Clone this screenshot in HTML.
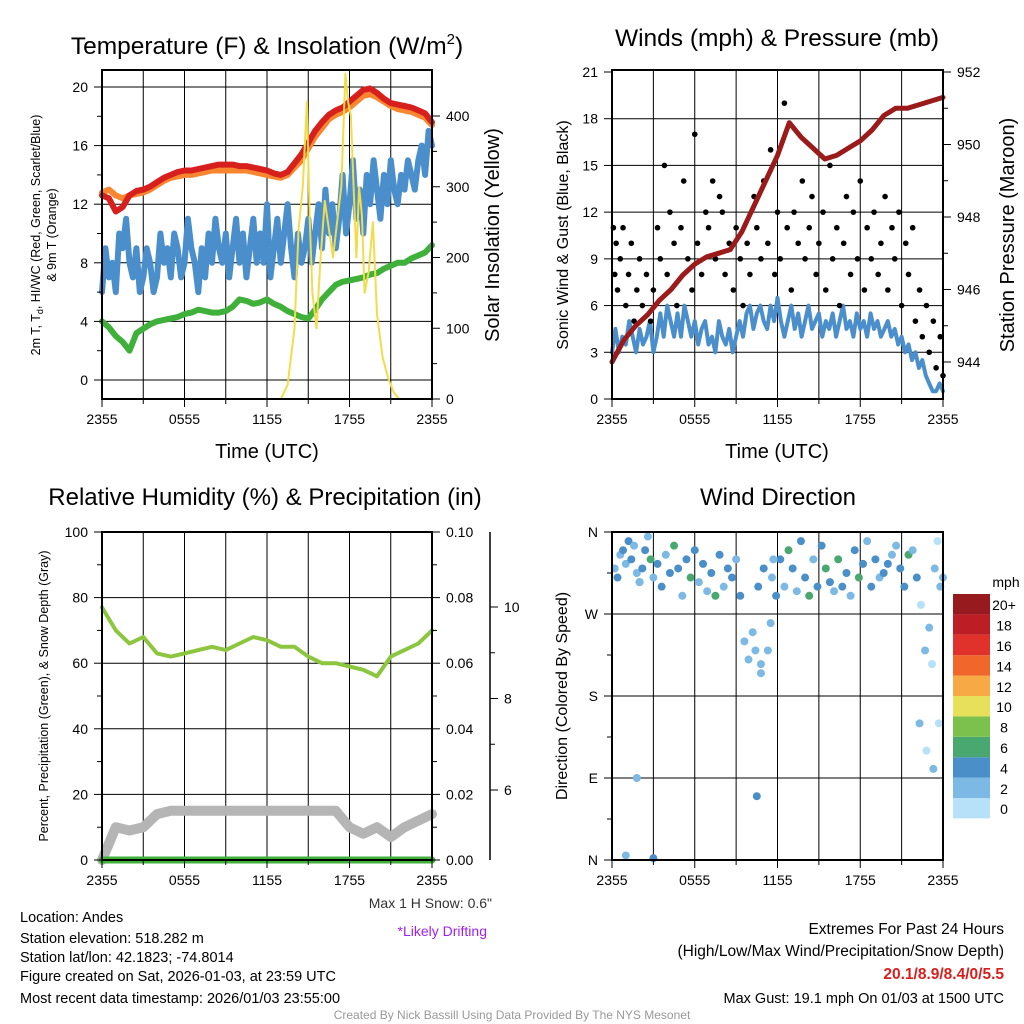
<!DOCTYPE html>
<html><head><meta charset="utf-8"><style>
body{margin:0;background:#fff}
svg{display:block;font-family:"Liberation Sans",sans-serif}
</style></head><body>
<svg id="c" width="1024" height="1024" viewBox="0 0 1024 1024"></svg>
<script>
// ---- data ----
const tempRed=[12.6,12.4,11.5,11.8,12.6,12.9,13.0,13.2,13.5,13.8,14.0,14.2,14.3,14.3,14.4,14.5,14.6,14.7,14.7,14.7,14.6,14.6,14.5,14.4,14.3,14.1,14.0,14.2,14.8,15.4,16.2,17.0,17.6,18.1,18.4,18.6,19.0,19.4,19.8,19.9,19.6,19.2,18.9,18.8,18.7,18.6,18.4,18.2,17.6];
const temp9m=[12.8,13.0,12.6,12.4,12.6,12.7,12.8,13.0,13.3,13.6,13.8,13.9,14.0,14.0,14.1,14.2,14.3,14.3,14.3,14.3,14.3,14.3,14.2,14.1,14.0,13.9,13.8,14.0,14.5,15.0,15.8,16.6,17.2,17.8,18.1,18.3,18.6,19.0,19.4,19.5,19.3,19.0,18.7,18.5,18.4,18.3,18.1,17.9,17.4];
const tempDew=[4.0,3.6,3.0,2.6,2.0,3.2,3.5,3.8,4.0,4.1,4.2,4.3,4.5,4.6,4.8,4.7,4.6,4.6,4.7,5.0,5.5,5.4,5.2,5.3,5.5,5.2,5.0,4.7,4.5,4.3,4.2,4.8,5.5,6.0,6.5,6.7,6.8,6.9,7.0,7.2,7.3,7.6,7.8,8.0,8.0,8.3,8.5,8.7,9.2];
const tempWC=[6,9,7,8,6,10,9,11,8,7,9,6,7,9,8,6,7,10,8,9,7,10,9,7,8,11,9,8,6,9,7,10,8,11,9,8,10,7,9,11,8,10,7,9,11,8,10,8,12,7,9,11,8,10,12,9,7,10,8,9,11,8,10,12,9,13,10,12,9,11,14,10,12,15,11,13,10,14,12,15,13,11,14,12,15,13,12,14,13,15,14,13,15,16,14,17,16];
const solT=[0,13,13.5,14,14.3,14.6,14.9,15.1,15.3,15.6,15.9,16.2,16.5,16.8,17.1,17.4,17.7,17.9,18.1,18.3,18.5,18.7,18.9,19.1,19.4,19.7,20,20.4,20.8,21.2,21.6,24];
const solV=[0,0,20,100,240,300,420,260,150,100,200,280,240,200,250,300,460,420,400,300,200,300,260,150,180,250,120,60,30,10,0,0];
const windV=[3,4.5,3,4,3.5,5,4,3,4.5,3.5,4,5,3,4,5.5,4,6,5,4,5.5,4,6,5,4,5,3.5,4.5,5,3.5,4,3,5,4,3.5,4.5,3,4,5,4,5.5,6,4.5,5.5,6,5,4.5,6,5,6.5,5,4,5,6,4.5,5.5,4,5,6,4.5,5,5.5,4,5,4.5,5.5,4,5,6,4.5,5,4,5.5,4.5,5,4,5.5,4.5,5,4,4.5,5,4,4.5,3.5,4,3,3.5,2.5,3,2,2.5,1.5,1,0.5,0.5,1,0.5];
const gustT=[0.1,0.2,0.3,0.4,0.6,0.8,1.0,1.2,1.4,1.6,1.8,2.0,2.2,2.5,2.8,3.0,3.3,3.5,3.8,4.0,4.2,4.5,4.7,5.0,5.2,5.5,5.8,6.0,6.2,6.5,6.8,7.0,7.3,7.5,7.8,8.0,8.2,8.5,8.8,9.0,9.3,9.5,9.8,10.0,10.3,10.5,10.8,11.0,11.3,11.5,11.8,12.0,12.2,12.5,12.7,13.0,13.2,13.5,13.8,14.0,14.3,14.5,14.8,15.0,15.3,15.5,15.8,16.0,16.3,16.5,16.8,17.0,17.3,17.5,17.8,18.0,18.3,18.5,18.8,19.0,19.3,19.5,19.8,20.0,20.3,20.5,20.8,21.0,21.3,21.5,21.8,22.0,22.3,22.5,22.8,23.0,23.3,23.5,23.8,24.0];
const gustV=[11,8,10,7,9,11,6,8,10,5,7,9,6,8,5,7,11,9,15,8,12,10,6,11,14,9,7,17,10,8,12,11,14,9,13,12,8,10,7,11,9,6,10,8,13,11,9,14,10,16,8,12,9,19,11,7,12,10,14,9,11,13,8,10,12,7,15,9,11,6,10,13,8,12,9,14,7,11,9,12,8,10,13,7,11,9,12,6,10,8,11,5,7,4,6,3,5,2,4,1.5];
const pres=[944.0,944.6,945.0,945.3,945.7,946.0,946.4,946.7,946.9,947.0,947.1,947.6,948.3,949.0,949.7,950.6,950.2,949.9,949.6,949.7,949.9,950.1,950.4,950.8,951.0,951.0,951.1,951.2,951.3];
const rh=[77,70,66,68,63,62,63,64,65,64,66,68,67,65,65,62,60,60,59,58,56,62,64,66,70];
const snowGray=[0,10,9,10,14,15,15,15,15,15,15,15,15,15,15,15,15,15,10,8,10,7,10,12,14];
const precip=[0,0,0,0,0,0,0,0,0,0,0,0,0,0,0,0,0,0,0,0,0,0,0,0,0];
const dirT=[0.2,0.4,0.6,0.8,1.0,1.2,1.4,1.6,1.8,2.0,2.2,2.4,2.6,2.8,3.0,3.3,3.6,3.9,4.2,4.5,4.8,5.1,5.4,5.7,6.0,6.3,6.6,6.9,7.2,7.5,7.8,8.1,8.4,8.7,9.0,9.3,9.6,9.9,10.2,10.4,10.6,10.8,11.0,11.3,11.6,11.9,12.2,12.5,12.8,13.1,13.4,13.7,14.0,14.3,14.6,14.9,15.2,15.5,15.8,16.1,16.4,16.7,17.0,17.3,17.6,17.9,18.2,18.5,18.8,19.1,19.4,19.7,20.0,20.3,20.6,20.9,21.2,21.5,21.8,22.1,22.4,22.7,23.0,23.2,23.4,23.6,23.8,24.0,1.0,2.0,3.0,10.8,11.5,22.3,22.8,23.3,23.7,1.8,11.7,10.5];
const dirD=[320,310,335,340,325,350,330,345,315,305,320,340,355,330,310,325,300,335,315,345,320,290,330,310,340,305,325,295,315,290,335,300,320,310,330,290,240,220,250,230,300,205,320,230,310,290,330,300,340,320,295,350,310,290,330,300,345,320,305,295,330,300,315,290,340,310,325,350,300,330,310,315,325,335,345,320,300,335,340,310,280,230,255,215,320,350,300,310,5,305,2,215,260,150,120,100,150,90,330,70];
const dirS=[3,4,2,5,3,4,5,2,3,4,4,5,3,6,2,4,5,3,4,6,5,3,4,6,4,3,5,2,4,6,5,3,4,5,3,4,2,2,3,2,4,3,5,2,3,4,5,3,6,4,3,5,4,6,3,4,5,6,4,3,7,5,4,3,5,6,4,3,5,4,3,5,4,2,3,5,4,6,3,4,1,2,2,1,2,1,3,2,2,3,4,2,2,2,1,2,1,2,2,4];
const speedColors=["#b7e1f8","#7cb9e4","#4a8fc8","#48a86f","#7cc04d","#e6e05a","#f7a945","#f0662b","#e0322a","#bd1e26","#961a1e"];
const cbLabels=["0","2","4","6","8","10","12","14","16","18","20+"];
const xTicks=["2355","0555","1155","1755","2355"];

// ---- helpers ----
const S=document.getElementById('c');const NS="http://www.w3.org/2000/svg";
function mk(t,a,p){const e=document.createElementNS(NS,t);for(const k in a)e.setAttribute(k,a[k]);(p||S).appendChild(e);return e;}
function txt(x,y,s,size,anchor,extra){const e=mk('text',Object.assign({x:x,y:y,'font-size':size,'text-anchor':anchor||'middle',fill:'#000'},extra||{}));e.textContent=s;return e;}
function lin(x0,x1,d0,d1){return v=>x0+(v-d0)*(x1-x0)/(d1-d0);}
function pathFrom(xs,ys){return xs.map((x,i)=>(i?'L':'M')+x.toFixed(1)+','+ys[i].toFixed(1)).join('');}
function frame(x0,y0,x1,y1,vg,hg){
  vg.forEach(x=>{const l=mk('line',{x1:x,x2:x,y1:y0,y2:y1,stroke:'#000','stroke-width':1});});
  hg.forEach(y=>{const l=mk('line',{x1:x0,x2:x1,y1:y,y2:y,stroke:'#000','stroke-width':1});});
}
function box(x0,y0,x1,y1){const r=mk('rect',{x:x0,y:y0,width:x1-x0,height:y1-y0,fill:'none',stroke:'#000','stroke-width':2});}
function xAxis(x0,x1,yb){const sx=lin(x0,x1,0,24);
  for(let h=0;h<=24;h+=3){const big=h%6==0;mk('line',{x1:sx(h),x2:sx(h),y1:yb,y2:yb+(big?8:5),stroke:'#000'});}
  xTicks.forEach((s,i)=>{const t=txt(sx(i*6),yb+25,s,14);});}
function yTicks(x,y0,y1,d0,d1,vals,labels,side,minor){const sy=lin(y0,y1,d0,d1);const dir=side=='l'?-1:1;
  (minor||[]).forEach(v=>mk('line',{x1:x,x2:x+dir*5,y1:sy(v),y2:sy(v),stroke:'#000'}));
  vals.forEach((v,i)=>{mk('line',{x1:x,x2:x+dir*8,y1:sy(v),y2:sy(v),stroke:'#000'});
   const t=txt(x+dir*14,sy(v)+5,labels[i],14,side=='l'?'end':'start');});}
function rotText(x,y,s,size,name){const t=txt(x,y,s,size,'middle',{transform:`rotate(-90 ${x} ${y})`});return t;}
function series(d,color,w,name){const p=mk('path',{d:d,fill:'none',stroke:color,'stroke-width':w,'stroke-linejoin':'round','stroke-linecap':'round'});return p;}

// ===== Panel 1 =====
(function(){const x0=102,x1=432,y0=70,y1=399;const sx=lin(x0,x1,0,24);const sy=lin(380,87,0,20);const sr=lin(399,116,0,400);
 const t1=txt(267,54,'',24.5);
 t1.innerHTML='Temperature (F) &amp; Insolation (W/m<tspan font-size="15" dy="-10">2</tspan><tspan dy="10">)</tspan>';
 frame(x0,y0,x1,y1,[3,6,9,12,15,18,21].map(sx),[0,4,8,12,16,20].map(sy));
 const n=tempRed.length;const xs=tempRed.map((_,i)=>sx(i*24/(n-1)));
 series(pathFrom(xs,tempDew.map(sy)),'#3fb13b',6,'dewpoint-line');
 const m=tempWC.length;series(pathFrom(tempWC.map((_,i)=>sx(i*24/(m-1))),tempWC.map(sy)),'#4a8fcb',6,'windchill-line');
 series(pathFrom(xs,temp9m.map(sy)),'#f7862f',6,'temp-9m-line');
 series(pathFrom(xs,tempRed.map(sy)),'#d7201e',6,'temp-2m-line');
 series(pathFrom(solT.map(sx),solV.map(sr)),'#f2dc4a',2,'insolation-line');
 box(x0,y0,x1,y1);xAxis(x0,x1,y1);
 yTicks(x0,380,87,0,20,[0,4,8,12,16,20],['0','4','8','12','16','20'],'l',[2,6,10,14,18]);
 yTicks(x1,399,116,0,400,[0,100,200,300,400],['0','100','200','300','400'],'r',[50,150,250,350]);
 const tx=txt(267,458,'Time (UTC)',20);
 const a=rotText(40,235,'',12.5,'y-axis-title-left');a.innerHTML='2m T, T<tspan font-size="9" dy="3">d</tspan><tspan dy="-3">, HI/WC (Red, Green, Scarlet/Blue)</tspan>';
 rotText(56,235,'& 9m T (Orange)',12.5,'y-axis-title-left-2');
 rotText(499,235,'Solar Insolation (Yellow)',20,'y-axis-title-right');
})();

// ===== Panel 2 =====
(function(){const x0=612,x1=943,y0=70,y1=399;const sx=lin(x0,x1,0,24);const sy=lin(399,72,0,21);const sp=lin(362,72,944,952);
 const t=txt(777,46,'Winds (mph) & Pressure (mb)',24.5);
 frame(x0,y0,x1,y1,[3,6,9,12,15,18,21].map(sx),[3,6,9,12,15,18].map(sy));
 const n=windV.length;series(pathFrom(windV.map((_,i)=>sx(i*24/(n-1))),windV.map(sy)),'#4a8fcb',4,'sonic-wind-line');
 gustT.forEach((h,i)=>{const c=mk('circle',{cx:sx(h),cy:sy(gustV[i]),r:2.8,fill:'#000'});});
 const m=pres.length;series(pathFrom(pres.map((_,i)=>sx(i*24/(m-1))),pres.map(sp)),'#9b1b1b',5,'pressure-line');
 box(x0,y0,x1,y1);xAxis(x0,x1,y1);
 yTicks(x0,399,72,0,21,[0,3,6,9,12,15,18,21],['0','3','6','9','12','15','18','21'],'l');
 yTicks(x1,362,72,944,952,[944,946,948,950,952],['944','946','948','950','952'],'r',[945,947,949,951]);
 const tx=txt(777,458,'Time (UTC)',20);
 rotText(568,235,'Sonic Wind & Gust (Blue, Black)',16,'y-axis-title-left');
 rotText(1014,235,'Station Pressure (Maroon)',20,'y-axis-title-right');
})();

// ===== Panel 3 =====
(function(){const x0=102,x1=432,y0=532,y1=860;const sx=lin(x0,x1,0,24);const sy=lin(860,532,0,100);const ss=lin(790,607,6,10);
 const t=txt(265,505,'Relative Humidity (%) & Precipitation (in)',24);
 frame(x0,y0,x1,y1,[3,6,9,12,15,18,21].map(sx),[20,40,60,80].map(sy));
 const n=rh.length;const xs=rh.map((_,i)=>sx(i*24/(n-1)));
 series(pathFrom(xs,snowGray.map(sy)),'#b5b5b5',10,'snow-depth-line');
 series(pathFrom(xs,precip.map(v=>sy(v*1000))),'#3fb13b',7,'precip-line');
 series(pathFrom(xs,rh.map(sy)),'#8cc63f',4,'rh-line');
 box(x0,y0,x1,y1);xAxis(x0,x1,y1);
 yTicks(x0,860,532,0,100,[0,20,40,60,80,100],['0','20','40','60','80','100'],'l',[10,30,50,70,90]);
 yTicks(x1,860,532,0,0.1,[0,0.02,0.04,0.06,0.08,0.1],['0.00','0.02','0.04','0.06','0.08','0.10'],'r',[0.01,0.03,0.05,0.07,0.09]);
 mk('line',{x1:490,x2:490,y1:532,y2:860,stroke:'#000','stroke-width':1.5});
 yTicks(490,790,607,6,10,[6,8,10],['6','8','10'],'r',[7,9]);
 rotText(48,696,'Percent, Precipitation (Green), & Snow Depth (Gray)',12.5,'y-axis-title-left');
 const a=txt(492,908,'Max 1 H Snow: 0.6"',14,'end',{fill:'#333'});
 const b=txt(487,936,'*Likely Drifting',14,'end',{fill:'#a020f0'});
})();

// ===== Panel 4 =====
(function(){const x0=612,x1=943,y0=532,y1=860;const sx=lin(x0,x1,0,24);const sy=lin(860,532,0,360);
 const t=txt(778,505,'Wind Direction',24);
 frame(x0,y0,x1,y1,[3,6,9,12,15,18,21].map(sx),[90,180,270].map(sy));
 dirT.forEach((h,i)=>{const k=Math.min(10,Math.floor(dirS[i]/2));const c=mk('circle',{cx:sx(h),cy:sy(dirD[i]),r:4,fill:speedColors[k]});});
 box(x0,y0,x1,y1);xAxis(x0,x1,y1);
 yTicks(x0,860,532,0,360,[0,90,180,270,360],['N','E','S','W','N'],'l',[45,135,225,315]);
 rotText(567,696,'Direction (Colored By Speed)',16,'y-axis-title-left');
 const u=txt(1006,587,'mph',14);
 const h=20.4;speedColors.forEach((c,i)=>{const y=594+(10-i)*h;const r=mk('rect',{x:953,y:y,width:37,height:h,fill:c});
   const l=txt(1004,y+h/2+6,cbLabels[i],14);});
})();

// ===== Footer =====
[['Location: Andes',922],['Station elevation: 518.282 m',943],['Station lat/lon: 42.1823; -74.8014',962],['Figure created on Sat, 2026-01-03, at 23:59 UTC',981],['Most recent data timestamp: 2026/01/03 23:55:00',1003]].forEach(([s,y])=>{const t=txt(20,y,s,14.5,'start');});
[['Extremes For Past 24 Hours',934,15.5,'#000','normal'],['(High/Low/Max Wind/Precipitation/Snow Depth)',956,15.5,'#000','normal'],['20.1/8.9/8.4/0/5.5',979,15.5,'#d7201e','bold'],['Max Gust: 19.1 mph On 01/03 at 1500 UTC',1003,14.5,'#000','normal']].forEach(([s,y,f,c,w])=>{const t=txt(1004,y,s,f,'end',{fill:c,'font-weight':w});});
const cr=txt(512,1019,'Created By Nick Bassill Using Data Provided By The NYS Mesonet',12,'middle',{fill:'#999'});


</script>
</body></html>
